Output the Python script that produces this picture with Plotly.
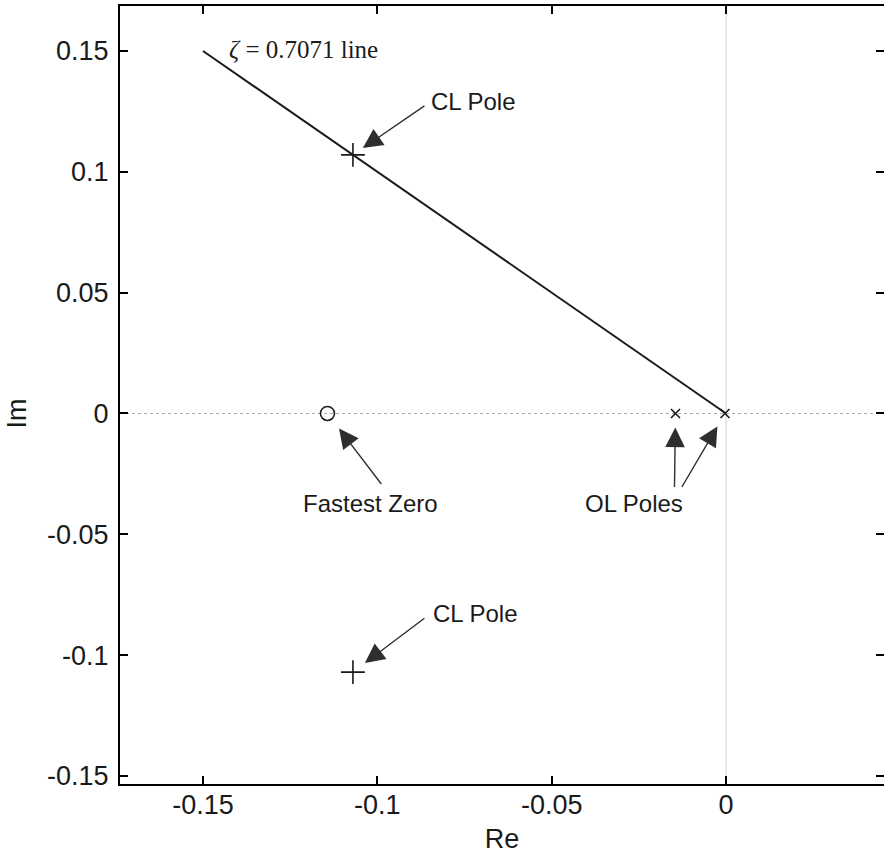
import plotly.graph_objects as go

# Pole-zero data (s-plane)
cl_pole_re = [-0.107, -0.107]
cl_pole_im = [0.107, -0.107]
ol_pole_re = [-0.0145, -0.0003]
ol_pole_im = [0.0, 0.0]
zero_re = [-0.1143]
zero_im = [0.0]
# constant damping ratio line zeta = 0.7071 (45 degrees)
zeta_re = [-0.15, 0.0]
zeta_im = [0.15, 0.0]

x_ticks = [-0.15, -0.1, -0.05, 0.0]
x_tick_text = ["-0.15", "-0.1", "-0.05", "0"]
y_ticks = [-0.15, -0.1, -0.05, 0.0, 0.05, 0.1, 0.15]
y_tick_text = ["-0.15", "-0.1", "-0.05", "0", "0.05", "0.1", "0.15"]

x_range = [-0.1738, 0.0453]
y_range = [-0.1533, 0.1686]

INK = "#1a1a1a"
SANS = "Liberation Sans, Arial, sans-serif"
SERIF = "Liberation Serif, Times New Roman, serif"

fig = go.Figure()

# zero reference lines
fig.add_shape(type="line", xref="x", yref="y", x0=x_range[0], x1=x_range[1], y0=0, y1=0,
              line=dict(color="#a8a8a8", width=1, dash="dot"), layer="below")
fig.add_shape(type="line", xref="x", yref="y", x0=0, x1=0, y0=y_range[0], y1=y_range[1],
              line=dict(color="#cfcfcf", width=1), layer="below")

fig.add_trace(go.Scatter(x=zeta_re, y=zeta_im, mode="lines",
                         line=dict(color=INK, width=2), hoverinfo="skip"))
fig.add_trace(go.Scatter(x=cl_pole_re, y=cl_pole_im, mode="markers",
                         marker=dict(symbol="cross-thin", size=17, line=dict(color=INK, width=1.6))))
fig.add_trace(go.Scatter(x=ol_pole_re, y=ol_pole_im, mode="markers",
                         marker=dict(symbol="x-thin", size=9, line=dict(color=INK, width=1.6))))
fig.add_trace(go.Scatter(x=zero_re, y=zero_im, mode="markers",
                         marker=dict(symbol="circle-open", size=14, color=INK, line=dict(color=INK, width=1.6))))
# invisible anchor trace for the top/right tick axes
fig.add_trace(go.Scatter(x=zeta_re, y=zeta_im, xaxis="x2", yaxis="y2", mode="lines",
                         line=dict(width=0), opacity=0, hoverinfo="skip"))

ARROW = "#2e2e2e"


def arrow(x, y, ax, ay, standoff):
    fig.add_annotation(x=x, y=y, xref="x", yref="y", ax=ax, ay=ay, text="",
                       showarrow=True, arrowhead=2, arrowsize=2.8, arrowwidth=1.4,
                       arrowcolor=ARROW, standoff=standoff)


def label(x, y, text, dx, dy, anchor="center", font=SANS, size=24):
    fig.add_annotation(x=x, y=y, xref="x", yref="y", text=text, showarrow=False,
                       xanchor=anchor, yanchor="middle", xshift=dx, yshift=dy,
                       font=dict(family=font, size=size, color=INK))


# closed-loop poles
arrow(cl_pole_re[0], cl_pole_im[0], 73, -50, 12)
label(cl_pole_re[0], cl_pole_im[0], "CL Pole", 76, 53, anchor="left")
arrow(cl_pole_re[1], cl_pole_im[1], 73, -55, 15)
label(cl_pole_re[1], cl_pole_im[1], "CL Pole", 78, 59, anchor="left")

# fastest zero
arrow(zero_re[0], zero_im[0], 55, 72, 19)
label(zero_re[0], zero_im[0], "Fastest Zero", 43, -90)

# open-loop poles
arrow(ol_pole_re[0], ol_pole_im[0], -1, 75, 14)
arrow(ol_pole_re[1], ol_pole_im[1], -44, 75, 15)
label(ol_pole_re[0], ol_pole_im[0], "OL Poles", -41, -90)

# damping line label
label(zeta_re[0], zeta_im[0], "<i>ζ</i> = 0.7071 line", 24, 1, anchor="left", font=SERIF, size=25)

# Im axis title, centred on the real axis
fig.add_annotation(x=0, xref="paper", y=0, yref="y", text="Im", showarrow=False,
                   xanchor="center", yanchor="middle",
                   textangle=-90, xshift=-103, font=dict(family=SANS, size=27, color=INK))

tick_style = dict(showgrid=False, zeroline=False, ticks="inside", ticklen=8, tickwidth=1.5,
                  tickcolor="black", linecolor="black", linewidth=2)
label_font = dict(family=SANS, size=27, color=INK)

fig.update_layout(
    xaxis=dict(range=x_range, tickvals=x_ticks, ticktext=x_tick_text, showline=True,
               tickfont=label_font, ticklabelstandoff=-4,
               title=dict(text="Re", font=label_font, standoff=10), **tick_style),
    yaxis=dict(range=y_range, tickvals=y_ticks, ticktext=y_tick_text, showline=True,
               tickfont=label_font, ticklabelstandoff=4, **tick_style),
    # top frame edge with ticks, right edge ticks only
    xaxis2=dict(overlaying="x", matches="x", side="top", tickvals=x_ticks,
                showticklabels=False, showline=True, **tick_style),
    yaxis2=dict(overlaying="y", matches="y", side="right", tickvals=y_ticks,
                showticklabels=False, showline=False, **tick_style),
    width=884, height=867, showlegend=False,
    margin=dict(l=120, r=0, t=6, b=83),
    paper_bgcolor="white", plot_bgcolor="white",
)

fig.write_html("out.html")
